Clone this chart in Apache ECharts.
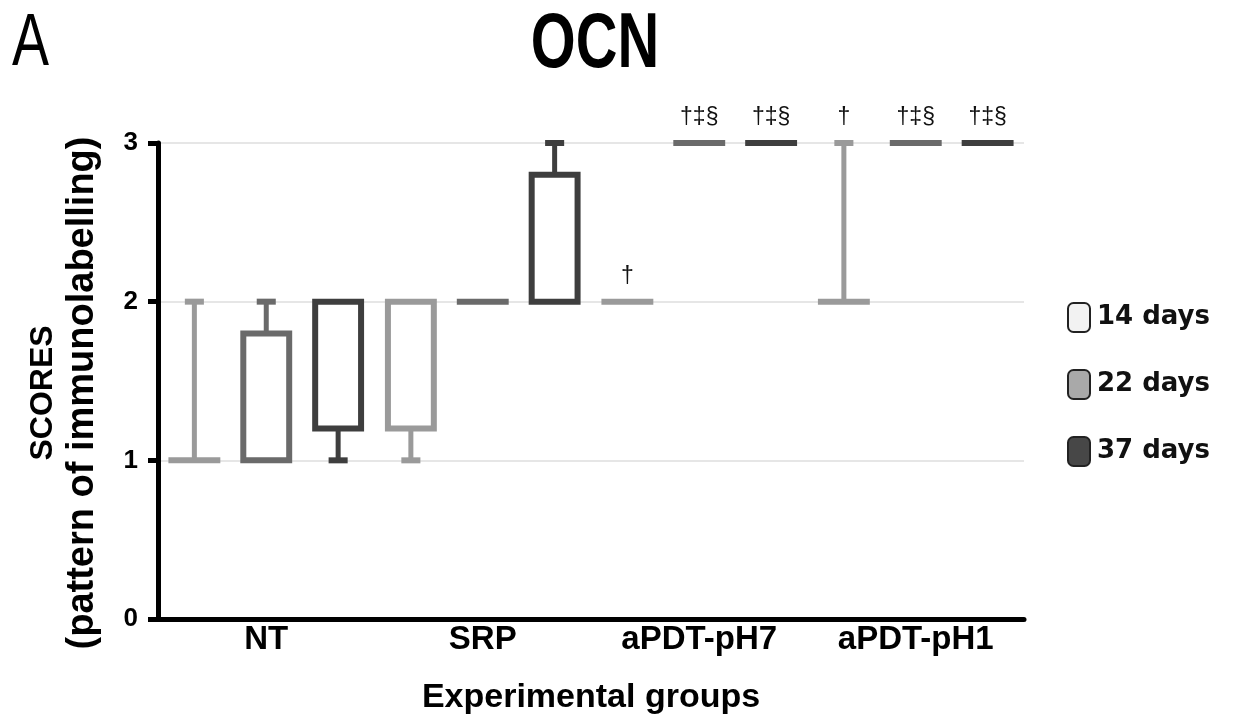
<!DOCTYPE html>
<html>
<head>
<meta charset="utf-8">
<script src="https://cdn.jsdelivr.net/npm/echarts@6/dist/echarts.min.js"></script>
<style>
  html, body { margin: 0; padding: 0; background: #fff; }
  #chart { width: 1233px; height: 721px; }
</style>
</head>
<body>
<div id="chart"></div>
<script>
var categories = ["NT", "SRP", "aPDT-pH7", "aPDT-pH1"];
var seriesNames = ["14 days", "22 days", "37 days"];
var yTicks = [0, 1, 2, 3];

// [min, box bottom, box top, max] per group
var days14 = [[1, 1, 1, 2], [1, 1.2, 2, 2], [2, 2, 2, 2], [2, 2, 2, 3]];
var days22 = [[1, 1, 1.8, 2], [2, 2, 2, 2], [3, 3, 3, 3], [3, 3, 3, 3]];
var days37 = [[1, 1.2, 2, 2], [2, 2, 2.8, 3], [3, 3, 3, 3], [3, 3, 3, 3]];

// significance marks above each box
var marks14 = ["", "", "†", "†"];
var marks22 = ["", "", "†‡§", "†‡§"];
var marks37 = ["", "", "†‡§", "†‡§"];

var lineColors = ["#9a9a9a", "#6a6a6a", "#3e3e3e"];
var legendFill = ["#f2f2f2", "#a9a9a9", "#474747"];
var offsets = [-0.332, 0, 0.332];
var sans = "'Liberation Sans', Arial, sans-serif";

function toData(values, marks) {
	return values.map(function (v, i) {
		return [i, v[0], v[1], v[2], v[3], marks[i]];
	});
}

// 箱形 + 須線
function boxRenderer(idx) {
	return function (params, api) {
		var cat = api.value(0);
		var band = api.size([1, 0])[0];
		var cx = api.coord([cat, 0])[0] + offsets[idx] * band;
		var boxW = band * 0.212;
		var capW = band * 0.088;
		var yMin = api.coord([cat, api.value(1)])[1];
		var yLow = api.coord([cat, api.value(2)])[1];
		var yHigh = api.coord([cat, api.value(3)])[1];
		var yMax = api.coord([cat, api.value(4)])[1];
		var color = lineColors[idx];
		var children = [];

		if (api.value(4) > api.value(3)) {
			children.push({
				type: "line",
				shape: { x1: cx, y1: yHigh, x2: cx, y2: yMax },
				style: { stroke: color, lineWidth: 5 }
			});
			children.push({
				type: "line",
				shape: { x1: cx - capW / 2, y1: yMax, x2: cx + capW / 2, y2: yMax },
				style: { stroke: color, lineWidth: 6 }
			});
		}
		if (api.value(1) < api.value(2)) {
			children.push({
				type: "line",
				shape: { x1: cx, y1: yLow, x2: cx, y2: yMin },
				style: { stroke: color, lineWidth: 5 }
			});
			children.push({
				type: "line",
				shape: { x1: cx - capW / 2, y1: yMin, x2: cx + capW / 2, y2: yMin },
				style: { stroke: color, lineWidth: 6 }
			});
		}
		if (api.value(3) > api.value(2)) {
			children.push({
				type: "rect",
				shape: { x: cx - boxW / 2, y: yHigh, width: boxW, height: yLow - yHigh },
				style: { fill: "#fff", stroke: color, lineWidth: 6 }
			});
		} else {
			children.push({
				type: "line",
				shape: { x1: cx - boxW / 2, y1: yLow, x2: cx + boxW / 2, y2: yLow },
				style: { stroke: color, lineWidth: 6, lineCap: "square" }
			});
		}
		var mark = api.value(5);
		if (mark) {
			children.push({
				type: "text",
				style: {
					text: mark,
					x: cx,
					y: yMax - 25,
					align: "center",
					verticalAlign: "middle",
					fill: "#111",
					font: "23px " + sans
				}
			});
		}
		return { type: "group", children: children };
	};
}

var chart = echarts.init(document.getElementById("chart"), null, { renderer: "canvas" });

var allData = [toData(days14, marks14), toData(days22, marks22), toData(days37, marks37)];
var series = seriesNames.map(function (name, i) {
	return {
		name: name,
		type: "custom",
		renderItem: boxRenderer(i),
		itemStyle: { color: lineColors[i] },
		encode: { x: 0, y: [1, 2, 3, 4] },
		data: allData[i]
	};
});

var option = {
	animation: false,
	// 標題 (窄體字用 scaleX 壓縮)
	graphic: [
		{
			type: "text",
			x: 12,
			y: 45,
			scaleX: 0.75,
			style: { text: "A", fill: "#000", font: "normal 74px " + sans, align: "left", verticalAlign: "middle" }
		},
		{
			type: "text",
			x: 595,
			y: 45,
			scaleX: 0.74,
			style: { text: "OCN", fill: "#000", font: "bold 78px " + sans, align: "center", verticalAlign: "middle" }
		}
	],
	legend: {
		orient: "vertical",
		left: 1062,
		top: 297,
		itemWidth: 22,
		itemHeight: 29,
		itemGap: 36,
		icon: "roundRect",
		selectedMode: false,
		textStyle: {
			fontFamily: "'DejaVu Sans', sans-serif",
			fontWeight: "bold",
			fontSize: 26,
			color: "#111",
			padding: [0, 0, 0, 2]
		},
		data: seriesNames.map(function (n, i) {
			return { name: n, itemStyle: { color: legendFill[i], borderColor: "#222", borderWidth: 2 } };
		})
	},
	grid: { left: 158, right: 209, top: 143, bottom: 102 },
	xAxis: {
		type: "category",
		data: categories,
		name: "Experimental groups",
		nameLocation: "middle",
		nameGap: 62,
		nameTextStyle: { fontFamily: sans, fontWeight: "bold", fontSize: 34, color: "#000" },
		axisLine: { lineStyle: { color: "#000", width: 5 } },
		axisTick: { length: 10, lineStyle: { color: "#000", width: 5 } },
		axisLabel: { margin: 4, fontFamily: sans, fontWeight: "bold", fontSize: 33, color: "#000" }
	},
	yAxis: {
		type: "value",
		min: yTicks[0],
		max: yTicks[yTicks.length - 1],
		interval: 1,
		name: "{a|SCORES}\n{b|(pattern of immunolabelling)}",
		nameLocation: "middle",
		nameRotate: 90,
		nameGap: 52,
		nameTextStyle: {
			color: "#000",
			padding: [0, 24, 0, 0],
			rich: {
				a: { fontFamily: sans, fontWeight: "bold", fontSize: 32, lineHeight: 34 },
				b: { fontFamily: sans, fontWeight: "bold", fontSize: 38, lineHeight: 46 }
			}
		},
		axisLine: { show: true, lineStyle: { color: "#000", width: 5 } },
		axisTick: { show: true, length: 10, lineStyle: { color: "#000", width: 5 } },
		axisLabel: { margin: 20, fontFamily: sans, fontWeight: "bold", fontSize: 26, color: "#000" },
		splitLine: { lineStyle: { color: "#e6e6e6", width: 2 } }
	},
	series: series
};

chart.setOption(option);
window.addEventListener("resize", chart.resize);
</script>
</body>
</html>
